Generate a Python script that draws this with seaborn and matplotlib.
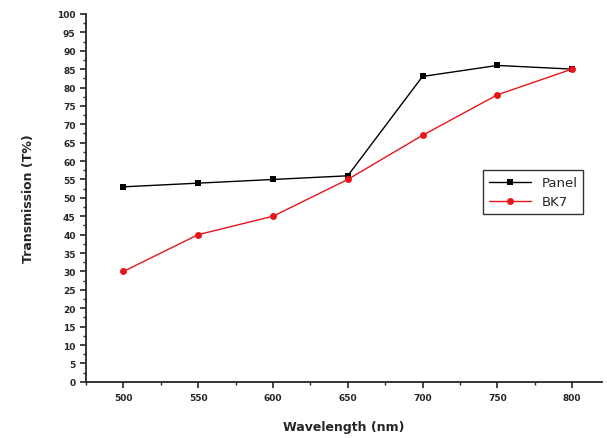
import numpy as np
import pandas as pd
import seaborn as sns
from matplotlib import pyplot as plt
from matplotlib.ticker import MultipleLocator

wavelength = [500, 550, 600, 650, 700, 750, 800]
panel = [53, 54, 55, 56, 83, 86, 85]
bk7 = [30, 40, 45, 55, 67, 78, 85]

sns.set_style("ticks")
plt.rcParams["font.family"] = ["DejaVu Sans"]

df = pd.DataFrame({
    "Wavelength": wavelength * 2,
    "T": panel + bk7,
    "Sample": ["Panel"] * len(panel) + ["BK7"] * len(bk7),
})

fig = plt.figure(figsize=(6.07, 4.39), dpi=100)
ax = fig.add_axes([0.1417, 0.128, 0.85, 0.838])

sns.lineplot(df, x="Wavelength", y="T", hue="Sample", style="Sample",
             palette={"Panel": "black", "BK7": "#e8141a"},
             markers={"Panel": "s", "BK7": "o"}, dashes=False,
             markersize=5, linewidth=1.0, markeredgewidth=0, ax=ax)

ax.set_xlim(475, 820)
ax.set_ylim(0, 100)
ax.xaxis.set_major_locator(MultipleLocator(50))
ax.xaxis.set_minor_locator(MultipleLocator(25))
ax.yaxis.set_major_locator(MultipleLocator(5))
ax.yaxis.set_minor_locator(MultipleLocator(2.5))
ax.tick_params(which="major", length=4, width=1.2, labelsize=6.5)
ax.tick_params(axis="x", which="major", pad=4)
ax.tick_params(which="minor", length=2, width=1)
for lab in ax.get_xticklabels() + ax.get_yticklabels():
    lab.set_fontweight("bold")
ax.spines[["top", "right"]].set_visible(False)
ax.spines[["left", "bottom"]].set_linewidth(1.3)
ax.set_xlabel("Wavelength (nm)", fontsize=9, fontweight="bold", labelpad=13)
ax.set_ylabel("Transmission (T%)", fontsize=9, fontweight="bold", labelpad=16)

leg = ax.legend(loc="upper left", bbox_to_anchor=(0.769, 0.575), frameon=True,
                fancybox=False, edgecolor="black", fontsize=9.5,
                handlelength=3.2, borderpad=0.45, labelspacing=0.45,
                borderaxespad=0)
leg.get_frame().set_linewidth(1.0)

fig.savefig("out.png", dpi=100)
